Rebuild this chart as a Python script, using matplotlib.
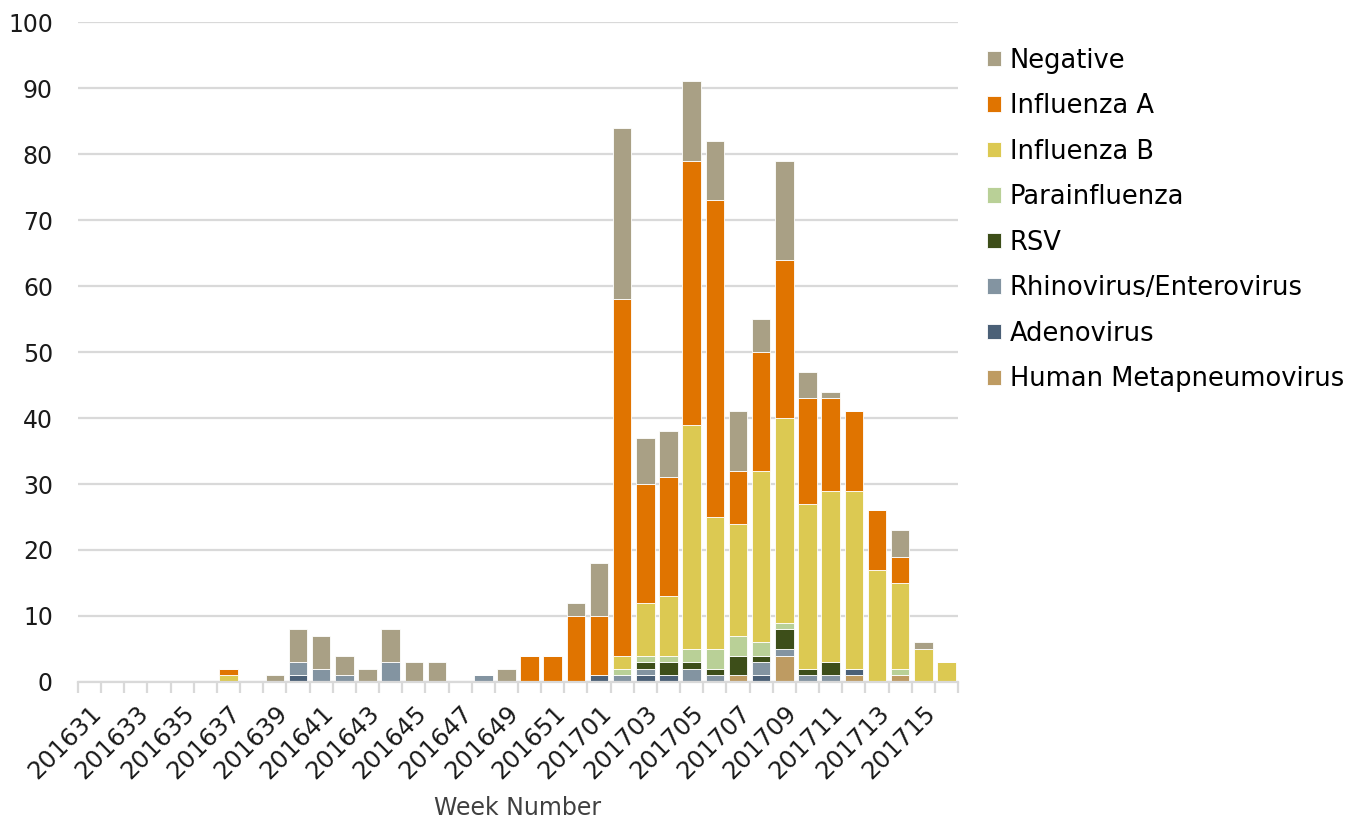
import matplotlib

matplotlib.use("Agg")

import matplotlib.pyplot as plt
import numpy as np


matplotlib.rcParams["font.family"] = ["DejaVu Sans"]

# weeks 201631..201652, 201701..201716
weeks = [f"2016{w:02d}" for w in range(31, 53)] + [f"2017{w:02d}" for w in range(1, 17)]

# series, bottom to top of each stack
hmpv = [0, 0, 0, 0, 0, 0, 0, 0, 0, 0, 0, 0, 0, 0, 0, 0, 0, 0, 0, 0, 0, 0,
        0, 0, 0, 0, 0, 0, 1, 0, 4, 0, 0, 1, 0, 1, 0, 0]
adeno = [0, 0, 0, 0, 0, 0, 0, 0, 0, 1, 0, 0, 0, 0, 0, 0, 0, 0, 0, 0, 0, 0,
         1, 0, 1, 1, 0, 0, 0, 1, 0, 0, 0, 1, 0, 0, 0, 0]
rhino = [0, 0, 0, 0, 0, 0, 0, 0, 0, 2, 2, 1, 0, 3, 0, 0, 0, 1, 0, 0, 0, 0,
         0, 1, 1, 0, 2, 1, 0, 2, 1, 1, 1, 0, 0, 0, 0, 0]
rsv = [0, 0, 0, 0, 0, 0, 0, 0, 0, 0, 0, 0, 0, 0, 0, 0, 0, 0, 0, 0, 0, 0,
       0, 0, 1, 2, 1, 1, 3, 1, 3, 1, 2, 0, 0, 0, 0, 0]
para = [0, 0, 0, 0, 0, 0, 0, 0, 0, 0, 0, 0, 0, 0, 0, 0, 0, 0, 0, 0, 0, 0,
        0, 1, 1, 1, 2, 3, 3, 2, 1, 0, 0, 0, 0, 1, 0, 0]
flu_b = [0, 0, 0, 0, 0, 0, 1, 0, 0, 0, 0, 0, 0, 0, 0, 0, 0, 0, 0, 0, 0, 0,
         0, 2, 8, 9, 34, 20, 17, 26, 31, 25, 26, 27, 17, 13, 5, 3]
flu_a = [0, 0, 0, 0, 0, 0, 1, 0, 0, 0, 0, 0, 0, 0, 0, 0, 0, 0, 0, 4, 4, 10,
         9, 54, 18, 18, 40, 48, 8, 18, 24, 16, 14, 12, 9, 4, 0, 0]
negative = [0, 0, 0, 0, 0, 0, 0, 0, 1, 5, 5, 3, 2, 5, 3, 3, 0, 0, 2, 0, 0, 2,
            8, 26, 7, 7, 12, 9, 9, 5, 15, 4, 1, 0, 0, 4, 1, 0]

series = [
    ("Human Metapneumovirus", hmpv, "#BE9B62"),
    ("Adenovirus", adeno, "#4B6077"),
    ("Rhinovirus/Enterovirus", rhino, "#8394A1"),
    ("RSV", rsv, "#3D4E19"),
    ("Parainfluenza", para, "#B9D097"),
    ("Influenza B", flu_b, "#DCC952"),
    ("Influenza A", flu_a, "#E07400"),
    ("Negative", negative, "#A9A085"),
]

fig = plt.figure(figsize=(13.61, 8.18), dpi=100)
ax = fig.add_axes([0.0573, 0.1663, 0.6466, 0.8067])

x = np.arange(len(weeks))
bottom = np.zeros(len(weeks))
handles = []
for name, values, color in series:
    vals = np.array(values, dtype=float)
    bars = ax.bar(x, vals, bottom=bottom, width=0.8, color=color,
                  edgecolor="white", linewidth=0.6, label=name)
    handles.append(bars)
    bottom += vals

ax.set_xlim(-0.5, len(weeks) - 0.5)
ax.set_ylim(0, 100)
ax.set_yticks(range(0, 101, 10))
ax.yaxis.grid(True, color="#D9D9D9", linewidth=1.6)
ax.set_axisbelow(True)
for side in ["top", "right", "left"]:
    ax.spines[side].set_visible(False)
ax.spines["bottom"].set_color("#D9D9D9")
ax.spines["bottom"].set_linewidth(1.6)

ax.tick_params(axis="y", length=0, labelsize=17, pad=18, labelcolor="#1a1a1a")
ax.set_xticks(x[::2])
ax.set_xticklabels(weeks[::2], rotation=45, ha="right", va="top",
                   rotation_mode="anchor", fontsize=17.5, color="#1a1a1a")
ax.tick_params(axis="x", length=0, pad=14)
ax.set_xticks(np.arange(-0.5, len(weeks), 1), minor=True)
ax.tick_params(axis="x", which="minor", length=8, width=1.6, color="#D9D9D9")

ax.set_xlabel("Week Number", fontsize=17, color="#404040", labelpad=9)

leg = fig.legend(handles[::-1], [s[0] for s in series][::-1],
                 loc="upper left", bbox_to_anchor=(0.708, 0.97),
                 frameon=False, fontsize=18.5, handlelength=0.55, handleheight=0.55,
                 handletextpad=0.35, labelspacing=0.76)

plt.savefig("out.png", dpi=100)
